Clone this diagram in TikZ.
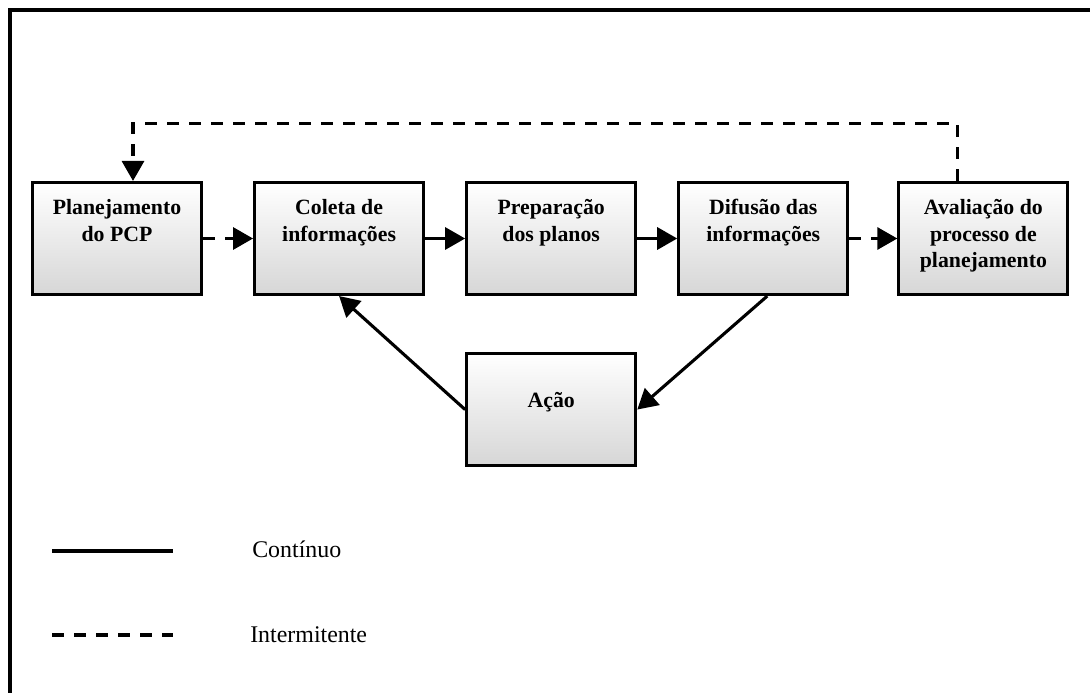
\documentclass[tikz,border=0pt]{standalone}
\usepackage{fontspec}
\setmainfont{Liberation Serif}
\usetikzlibrary{arrows.meta, positioning, calc}

\tikzset{
  etapa/.style={draw=black, line width=2.2pt, top color=white, bottom color=black!16,
    inner sep=0pt, font=\bfseries\fontsize{15.5}{19}\selectfont},
  fluxo/.style={line width=2.2pt, -{Triangle[length=0.5cm, width=0.55cm]}},
  tracejado/.style={dash pattern=on 0.3cm off 0.25cm},
  legenda/.style={inner sep=0pt, font=\fontsize{17}{20}\selectfont},
}
\newcommand{\etapatxt}[2][0.42cm]{%
  \begin{minipage}[t][2.8cm][t]{4.225cm}\centering\vspace*{#1}#2\end{minipage}}

\begin{document}
\begin{tikzpicture}
\useasboundingbox (0,0) rectangle (27.25,-17.325);
\draw[line width=2.9pt, line join=miter] (0.24,-17.6) -- (0.24,-0.24) -- (27.6,-0.24);

% etapas
\node[etapa] (plan) at (2.925,-5.9625) {\etapatxt{Planejamento\\do PCP}};
\node[etapa, right=1.25cm of plan] (coleta) {\etapatxt{Coleta de\\informações}};
\node[etapa, right=1.0cm of coleta] (prep) {\etapatxt{Preparação\\dos planos}};
\node[etapa, right=1.0cm of prep] (difusao) {\etapatxt{Difusão das\\informações}};
\node[etapa, right=1.2cm of difusao] (aval) {\etapatxt{Avaliação do\\processo de\\planejamento}};
\node[etapa, below=1.4cm of prep] (acao) {\etapatxt[0.98cm]{Ação}};

% ligacoes
\draw[fluxo, tracejado] (plan) -- (coleta);
\draw[fluxo] (coleta) -- (prep);
\draw[fluxo] (prep) -- (difusao);
\draw[fluxo, tracejado] (difusao) -- (aval);
\draw[fluxo, tracejado] ($(aval.north)+(-0.65,0)$) -- ++(0,1.43) -| ($(plan.north)+(0.4,0)$);
\draw[fluxo] ($(difusao.south)+(0.1,0)$) -- (acao.east);
\draw[fluxo] (acao.west) -- (coleta.south);

% legenda
\coordinate (contA) at (1.3,-13.775);
\coordinate (contB) at (4.325,-13.775);
\draw[line width=2.8pt] (contA) -- (contB);
\node[legenda, anchor=base west] (contTxt) at (6.3,-13.93) {Contínuo};
\coordinate (interA) at (1.3,-15.875);
\coordinate (interB) at (4.325,-15.875);
\draw[line width=2.8pt, tracejado] (interA) -- (interB);
\node[legenda, anchor=base west] (interTxt) at (6.25,-16.07) {Intermitente};
\end{tikzpicture}
\end{document}
